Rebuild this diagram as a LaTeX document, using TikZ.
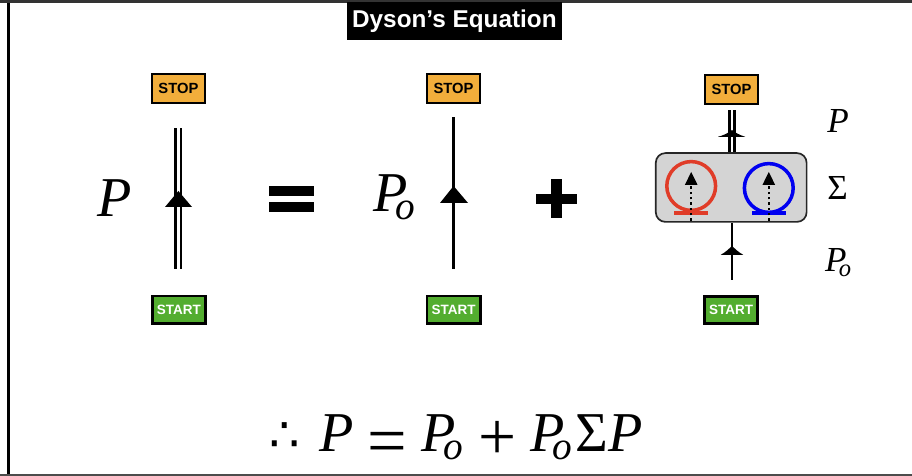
\documentclass[tikz,border=0pt]{standalone}
\usepackage{fontspec}
\setmainfont{Liberation Serif}
\setsansfont{Liberation Sans}
\newfontfamily\thfamily{DejaVu Sans}
\usetikzlibrary{arrows.meta, positioning, calc}

\definecolor{stopcol}{HTML}{F2AE3B}
\definecolor{startcol}{HTML}{53AD2F}
\definecolor{loopred}{HTML}{E03C28}
\definecolor{loopblue}{HTML}{0000F0}
\definecolor{selfgray}{HTML}{D4D4D4}

\newcommand{\Psym}{\textit{P}}
\newcommand{\Posym}{\textit{P}\hspace{-.22em}\raisebox{-.14em}{\scalebox{.7}{\textit{o}}}}

\tikzset{
  stopbox/.style={draw=black, fill=stopcol, line width=1.4pt, minimum width=1.33cm, minimum height=0.72cm, inner sep=0pt, font=\sffamily\bfseries\fontsize{10.5}{12}\selectfont},
  startbox/.style={draw=black, fill=startcol, text=white, line width=2pt, minimum width=1.33cm, minimum height=0.68cm, inner sep=0pt, font=\sffamily\bfseries\fontsize{9.6}{12}\selectfont},
  bigsym/.style={anchor=base west, inner sep=0pt, font=\fontsize{40}{44}\selectfont},
  smallsym/.style={anchor=base west, inner sep=0pt, font=\fontsize{25}{28}\selectfont},
  photon/.style={line width=2.1pt},
  dressed/.style={line width=5.6pt, draw=black, postaction={draw=white, line width=1.6pt}},
  tip/.style={fill=black, draw=none},
}

\begin{document}
\begin{tikzpicture}
  \useasboundingbox (0,0) rectangle (22.8,11.9);

  % Frame
  \fill[black] (0.175,0) rectangle (0.25,11.9);
  \fill[black!80] (0,11.825) rectangle (22.8,11.9);
  \fill[black!70] (0,0) rectangle (22.8,0.04);

  % Title
  \node[fill=black, text=white, minimum width=5.38cm, minimum height=0.95cm, inner sep=0pt, font=\sffamily\bfseries\fontsize{17.3}{20}\selectfont] (title) at (11.36,11.37) {Dyson’s Equation};

  % Left column
  \node[stopbox] (stopa) at (4.46,9.68) {STOP};
  \node[startbox] (starta) at (4.47,4.16) {START};
  \coordinate (topa) at (4.46,8.7);
  \coordinate (bota) at (4.46,5.18);
  \draw[dressed] (bota) -- (topa);
  \fill[tip] (4.46,7.125) -- (4.125,6.725) -- (4.8,6.725) -- cycle;
  \node[bigsym] (pa) at (2.42,6.475) {\Psym};

  % Equals
  \fill[black] (6.725,7.0) rectangle (7.85,7.25);
  \fill[black] (6.725,6.6) rectangle (7.85,6.85);

  % Middle column
  \node[stopbox] (stopb) at (11.34,9.68) {STOP};
  \node[startbox] (startb) at (11.34,4.16) {START};
  \coordinate (topb) at (11.34,8.975);
  \coordinate (botb) at (11.34,5.175);
  \draw[photon] (botb) -- (topb);
  \fill[tip] (11.34,7.25) -- (11.0,6.825) -- (11.7,6.825) -- cycle;
  \node[bigsym] (pb) at (9.32,6.6) {\Posym};

  % Plus
  \fill[black] (13.4,6.8) rectangle (14.42,7.05);
  \fill[black] (13.78,6.45) rectangle (14.05,7.425);

  % Right column
  \node[stopbox] (stopc) at (18.29,9.66) {STOP};
  \node[startbox] (startc) at (18.28,4.15) {START};
  \coordinate (topc) at (18.3,9.15);
  \coordinate (botc) at (18.3,4.9);
  \node[draw=black!85, fill=selfgray, line width=1.2pt, rounded corners=0.24cm, minimum width=3.77cm, minimum height=1.72cm] (self) at (18.28,7.2125) {};
  \draw[dressed] (self.north -| topc) -- (topc);
  \draw[photon] (botc) -- (self.south -| botc);
  \fill[tip] (18.3,8.65) .. controls (18.38,8.58) and (18.5,8.52) .. (18.63,8.48) -- (17.95,8.48) .. controls (18.1,8.52) and (18.22,8.58) .. (18.3,8.65) -- cycle;
  \fill[tip] (18.3,5.75) .. controls (18.38,5.68) and (18.45,5.6) .. (18.58,5.53) -- (18.02,5.53) .. controls (18.15,5.6) and (18.22,5.68) .. (18.3,5.75) -- cycle;

  % Loops
  \foreach \name/\xc/\yc/\col in {red/17.28/7.25/loopred, blue/19.22/7.2/loopblue} {
    \draw[\col, line width=2.5pt] (\xc,\yc) circle (0.61);
    \draw[\col, line width=2.5pt] (\xc-0.42,6.575) -- (\xc+0.42,6.575);
    \draw[line width=1.8pt, dash pattern=on 1.8pt off 2pt] (\xc,6.38) -- (\xc,7.3);
    \fill[tip] (\xc,7.6) -- (\xc-0.16,7.275) -- (\xc+0.16,7.275) -- cycle;
  }

  % Labels
  \node[smallsym] (pc) at (20.68,8.575) {\Psym};
  \node[smallsym] (sigma) at (20.68,6.9) {Σ};
  \node[smallsym] (pd) at (20.62,5.1) {\Posym};

  % Result
  \node[anchor=base west, inner sep=0pt, font=\fontsize{40}{44}\selectfont] (result) at (6.72,0.6) {\scalebox{.85}{\thfamily ∴}\hspace{.35em}\Psym\hspace{.25em}\raisebox{-.22em}{\scalebox{1.25}{=}}\hspace{.25em}\Posym\hspace{.28em}\raisebox{-.14em}{\scalebox{1.2}{+}}\hspace{.25em}\Posym\hspace{.05em}Σ\Psym};
\end{tikzpicture}
\end{document}
